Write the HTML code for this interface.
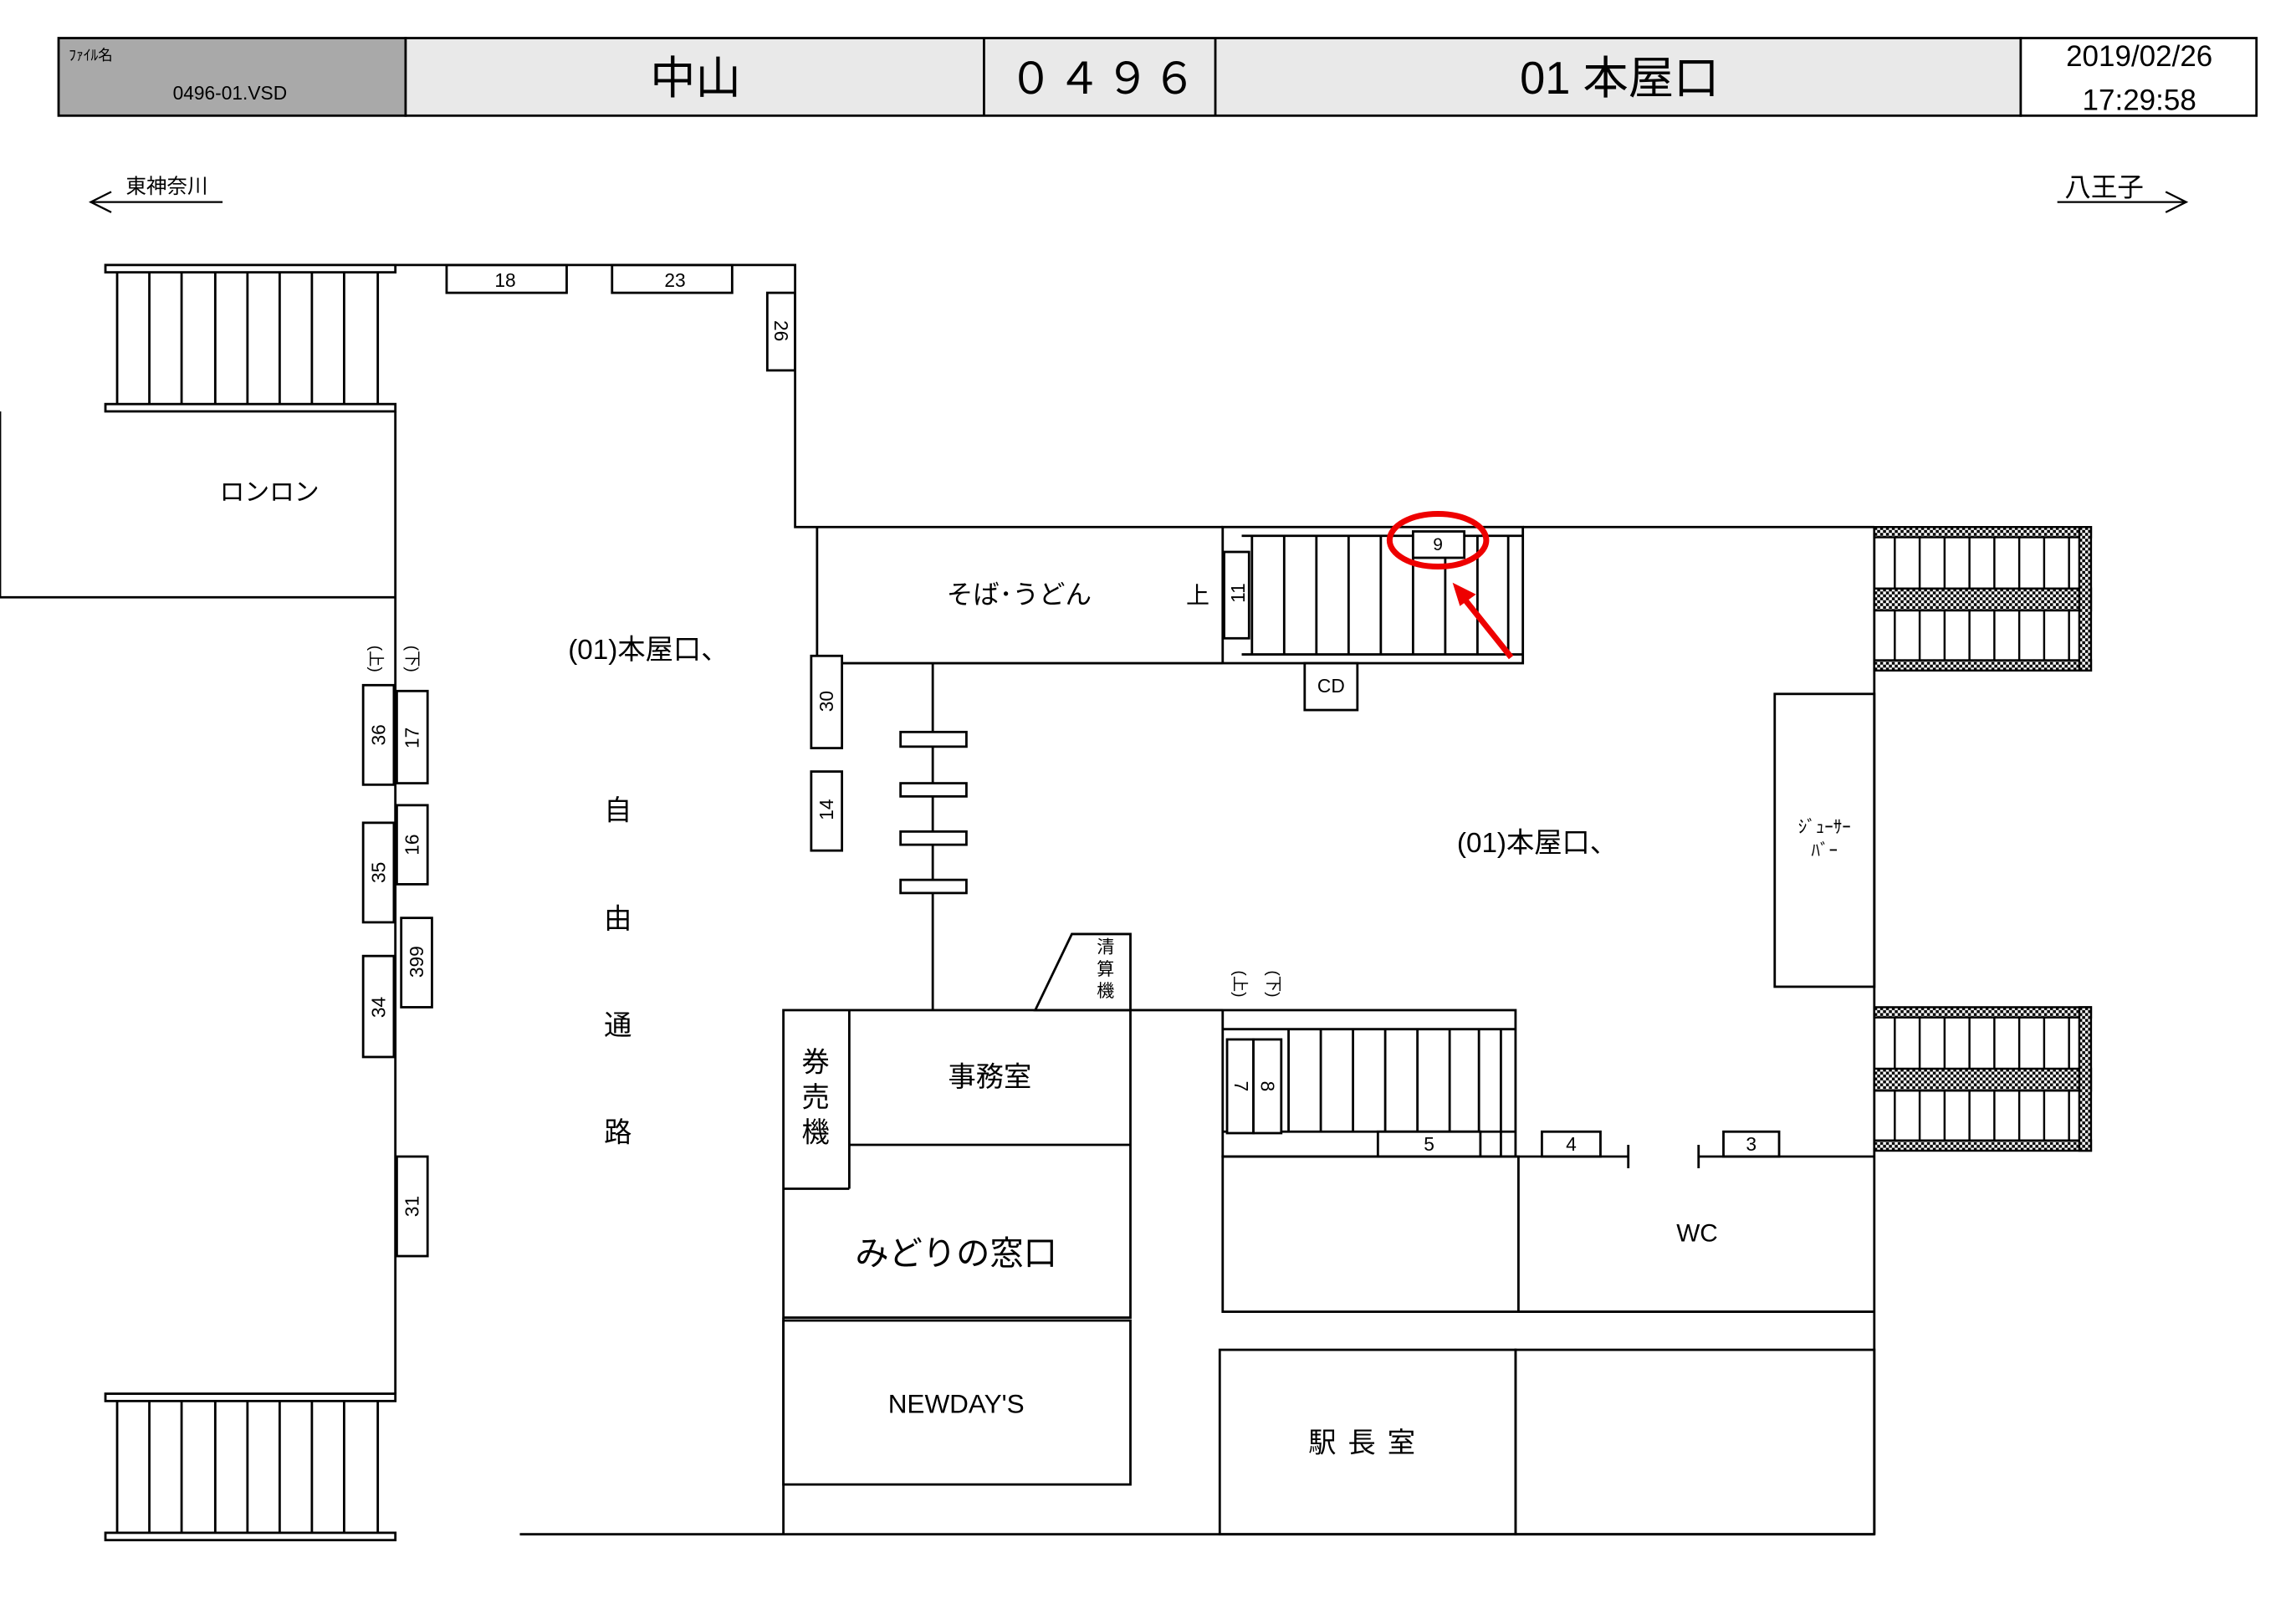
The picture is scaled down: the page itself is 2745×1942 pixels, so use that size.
<!DOCTYPE html>
<html><head><meta charset="utf-8">
<style>
html,body{margin:0;padding:0;background:#fff;}
svg{display:block;}
text{font-family:"Liberation Sans","Noto Sans CJK JP",sans-serif;fill:#000;}
</style></head><body>
<svg width="2745" height="1942" viewBox="0 0 1568 1109.3" xmlns="http://www.w3.org/2000/svg">
<defs>
<pattern id="hatch" width="4" height="4" patternUnits="userSpaceOnUse">
<rect width="4" height="4" fill="#fff"/><rect width="2" height="2" fill="#000"/><rect x="2" y="2" width="2" height="2" fill="#000"/>
</pattern>
</defs>
<g stroke="#000" stroke-width="1.6" fill="none">
<rect x="40" y="26" width="237" height="53" fill="#a9a9a9"/>
<rect x="277" y="26" width="1103" height="53" fill="#e9e9e9"/>
<rect x="1380" y="26" width="161" height="53" fill="#fff"/>
<line x1="672" y1="26" x2="672" y2="79"/>
<line x1="830" y1="26" x2="830" y2="79"/>
</g>
<text x="47" y="41" font-size="10">ﾌｧｲﾙ名</text>
<text x="118" y="68" font-size="13">0496-01.VSD</text>
<text x="475" y="64" font-size="31" text-anchor="middle">中山</text>
<text x="704" y="64" font-size="30" text-anchor="middle">０</text>
<text x="737" y="64" font-size="30" text-anchor="middle">４</text>
<text x="770" y="64" font-size="30" text-anchor="middle">９</text>
<text x="802" y="64" font-size="30" text-anchor="middle">６</text>
<text x="1106" y="64" font-size="31" text-anchor="middle">01  本屋口</text>
<text x="1461" y="45" font-size="20" text-anchor="middle">2019/02/26</text>
<text x="1461" y="75" font-size="20" text-anchor="middle">17:29:58</text>

<g stroke="#000" stroke-width="1.3" fill="none">
<line x1="62" y1="138" x2="152" y2="138"/><polyline points="76,131 62,138 76,145"/>
<line x1="1405" y1="138" x2="1493" y2="138"/><polyline points="1479,131 1493,138 1479,145"/>
</g>
<text x="86" y="132" font-size="14">東神奈川</text>
<text x="1410" y="134" font-size="18">八王子</text>

<g stroke="#000" stroke-width="1.6" fill="none">
<rect x="72" y="181" width="198" height="5"/><rect x="72" y="276" width="198" height="5"/>
<path d="M80 186V276M102 186V276M124 186V276M147 186V276M169 186V276M191 186V276M213 186V276M235 186V276M258 186V276"/>
<rect x="72" y="952" width="198" height="5"/><rect x="72" y="1047" width="198" height="5"/>
<path d="M80 957V1047M102 957V1047M124 957V1047M147 957V1047M169 957V1047M191 957V1047M213 957V1047M235 957V1047M258 957V1047"/>
<polyline points="270,181 543,181 543,360 835,360"/>
<line x1="1040" y1="360" x2="1280" y2="360"/>
<line x1="270" y1="281" x2="270" y2="952"/>
<polyline points="0,281 0,408 270,408"/>
<line x1="1280" y1="360" x2="1280" y2="1048"/>
<line x1="355" y1="1048" x2="1280" y2="1048"/>
<rect x="305" y="181" width="82" height="19"/>
<rect x="418" y="181" width="82" height="19"/>
<rect x="524" y="200" width="19" height="53"/>
<line x1="558" y1="360" x2="558" y2="453"/>
<line x1="558" y1="453" x2="835" y2="453"/>
<rect x="554" y="448" width="21" height="63" fill="#fff"/>
<rect x="554" y="527" width="21" height="54"/>
<line x1="637" y1="453" x2="637" y2="690"/>
<rect x="615" y="500" width="45" height="10" fill="#fff"/>
<rect x="615" y="535" width="45" height="9" fill="#fff"/>
<rect x="615" y="568" width="45" height="9" fill="#fff"/>
<rect x="615" y="601" width="45" height="9" fill="#fff"/>
<rect x="835" y="360" width="205" height="93"/>
<line x1="1040" y1="366" x2="848" y2="366"/>
<line x1="1040" y1="447" x2="848" y2="447"/>
<path d="M855 366V447M877 366V447M899 366V447M921 366V447M943 366V447M965 366V447M987 366V447M1009 366V447M1030 366V447"/>
<rect x="836" y="377" width="17" height="59" fill="#fff"/>
<rect x="965" y="363" width="35" height="18" fill="#fff"/>
<rect x="891" y="453" width="36" height="32"/>
<rect x="1212" y="474" width="68" height="200"/>
<rect x="535" y="690" width="237" height="210"/>
<line x1="580" y1="690" x2="580" y2="812"/>
<line x1="535" y1="812" x2="580" y2="812"/>
<line x1="580" y1="782" x2="772" y2="782"/>
<rect x="535" y="902" width="237" height="112"/>
<line x1="535" y1="900" x2="535" y2="1048"/>
<polygon points="707,690 732,638 772,638 772,690"/>
<line x1="772" y1="690" x2="835" y2="690"/>
<rect x="835" y="690" width="200" height="100"/>
<line x1="835" y1="703" x2="1035" y2="703"/>
<line x1="1025" y1="703" x2="1025" y2="790"/>
<path d="M880 703V773M902 703V773M924 703V773M946 703V773M968 703V773M990 703V773M1010 703V773"/>
<line x1="835" y1="773" x2="1035" y2="773"/>
<rect x="838" y="710" width="18" height="64" fill="#fff"/>
<rect x="856" y="710" width="19" height="64" fill="#fff"/>
<rect x="941" y="773" width="70" height="17" fill="#fff"/>
<rect x="1053" y="773" width="40" height="17"/>
<rect x="1177" y="773" width="38" height="17"/>
<line x1="1035" y1="790" x2="1112" y2="790"/>
<line x1="1112" y1="782" x2="1112" y2="798"/>
<line x1="1160" y1="782" x2="1160" y2="798"/>
<line x1="1160" y1="790" x2="1280" y2="790"/>
<rect x="835" y="790" width="202" height="106"/>
<line x1="1037" y1="896" x2="1280" y2="896"/>
<rect x="833" y="922" width="202" height="126"/>
<rect x="1035" y="922" width="245" height="126"/>
<rect x="248" y="468" width="21" height="68"/>
<rect x="271" y="472" width="21" height="63"/>
<rect x="271" y="550" width="21" height="54"/>
<rect x="248" y="562" width="21" height="68"/>
<rect x="274" y="627" width="21" height="61"/>
<rect x="248" y="653" width="21" height="69"/>
<rect x="271" y="790" width="21" height="68"/>
</g>
<g stroke="#000" stroke-width="1.4">
<rect x="1280" y="360" width="148" height="7" fill="url(#hatch)"/>
<rect x="1280" y="402" width="148" height="15" fill="url(#hatch)"/>
<rect x="1280" y="451" width="148" height="7" fill="url(#hatch)"/>
<rect x="1420" y="360" width="8" height="98" fill="url(#hatch)"/>
<path d="M1294 367V402M1311 367V402M1328 367V402M1345 367V402M1362 367V402M1379 367V402M1396 367V402M1413 367V402M1294 417V451M1311 417V451M1328 417V451M1345 417V451M1362 417V451M1379 417V451M1396 417V451M1413 417V451"/>
<rect x="1280" y="688" width="148" height="7" fill="url(#hatch)"/>
<rect x="1280" y="730" width="148" height="15" fill="url(#hatch)"/>
<rect x="1280" y="779" width="148" height="7" fill="url(#hatch)"/>
<rect x="1420" y="688" width="8" height="98" fill="url(#hatch)"/>
<path d="M1294 695V730M1311 695V730M1328 695V730M1345 695V730M1362 695V730M1379 695V730M1396 695V730M1413 695V730M1294 745V779M1311 745V779M1328 745V779M1345 745V779M1362 745V779M1379 745V779M1396 745V779M1413 745V779"/>
</g>
<ellipse cx="982" cy="369" rx="33" ry="18" fill="none" stroke="#e00" stroke-width="4"/>
<line x1="1032" y1="449" x2="1000" y2="409" stroke="#e00" stroke-width="4"/>
<polygon points="992,398 1008,406 997,414" fill="#e00"/>

<text x="345" y="196" font-size="13" text-anchor="middle">18</text>
<text x="461" y="196" font-size="13" text-anchor="middle">23</text>
<text transform="translate(529,226) rotate(90)" font-size="13" text-anchor="middle">26</text>
<text x="184" y="342" font-size="17" text-anchor="middle">ロンロン</text>
<text x="696" y="412" font-size="18" text-anchor="middle">そば･うどん</text>
<text x="810" y="412" font-size="16">上</text>
<text transform="translate(850,405) rotate(-90)" font-size="13" text-anchor="middle">11</text>
<text x="982" y="376" font-size="12" text-anchor="middle">9</text>
<text x="909" y="473" font-size="13" text-anchor="middle">CD</text>
<text x="388" y="450" font-size="19">(01)本屋口、</text>
<text x="995" y="582" font-size="19">(01)本屋口、</text>
<text transform="translate(569,479) rotate(-90)" font-size="13" text-anchor="middle">30</text>
<text transform="translate(569,553) rotate(-90)" font-size="13" text-anchor="middle">14</text>
<text x="422" y="560" font-size="19" text-anchor="middle">自</text>
<text x="422" y="634" font-size="19" text-anchor="middle">由</text>
<text x="422" y="707" font-size="19" text-anchor="middle">通</text>
<text x="422" y="780" font-size="19" text-anchor="middle">路</text>
<text x="1246" y="569" font-size="12" text-anchor="middle">ｼﾞｭｰｻｰ</text>
<text x="1246" y="585" font-size="12" text-anchor="middle">ﾊﾞｰ</text>
<text x="755" y="651" font-size="12" text-anchor="middle">清</text>
<text x="755" y="666" font-size="12" text-anchor="middle">算</text>
<text x="755" y="681" font-size="12" text-anchor="middle">機</text>
<text x="557" y="732" font-size="19" text-anchor="middle">券</text>
<text x="557" y="756" font-size="19" text-anchor="middle">売</text>
<text x="557" y="780" font-size="19" text-anchor="middle">機</text>
<text x="676" y="742" font-size="19" text-anchor="middle">事務室</text>
<text x="653" y="864" font-size="23" text-anchor="middle">みどりの窓口</text>
<text x="653" y="965" font-size="18" text-anchor="middle">NEWDAY'S</text>
<text x="934" y="992" font-size="19" text-anchor="middle" letter-spacing="8">駅長室</text>
<text x="1159" y="848" font-size="17" text-anchor="middle">WC</text>
<text transform="translate(843,672) rotate(90)" font-size="11" text-anchor="middle">(上)</text>
<text transform="translate(866,672) rotate(90)" font-size="11" text-anchor="middle">(下)</text>
<text transform="translate(253,450) rotate(90)" font-size="11" text-anchor="middle">(上)</text>
<text transform="translate(278,450) rotate(90)" font-size="11" text-anchor="middle">(下)</text>
<text transform="translate(843,742) rotate(90)" font-size="13" text-anchor="middle">7</text>
<text transform="translate(861,742) rotate(90)" font-size="13" text-anchor="middle">8</text>
<text x="976" y="786" font-size="13" text-anchor="middle">5</text>
<text x="1073" y="786" font-size="13" text-anchor="middle">4</text>
<text x="1196" y="786" font-size="13" text-anchor="middle">3</text>
<text transform="translate(263,502) rotate(-90)" font-size="13" text-anchor="middle">36</text>
<text transform="translate(286,504) rotate(-90)" font-size="13" text-anchor="middle">17</text>
<text transform="translate(286,577) rotate(-90)" font-size="13" text-anchor="middle">16</text>
<text transform="translate(263,596) rotate(-90)" font-size="13" text-anchor="middle">35</text>
<text transform="translate(289,657) rotate(-90)" font-size="13" text-anchor="middle">399</text>
<text transform="translate(263,688) rotate(-90)" font-size="13" text-anchor="middle">34</text>
<text transform="translate(286,824) rotate(-90)" font-size="13" text-anchor="middle">31</text>
</svg>
</body></html>
